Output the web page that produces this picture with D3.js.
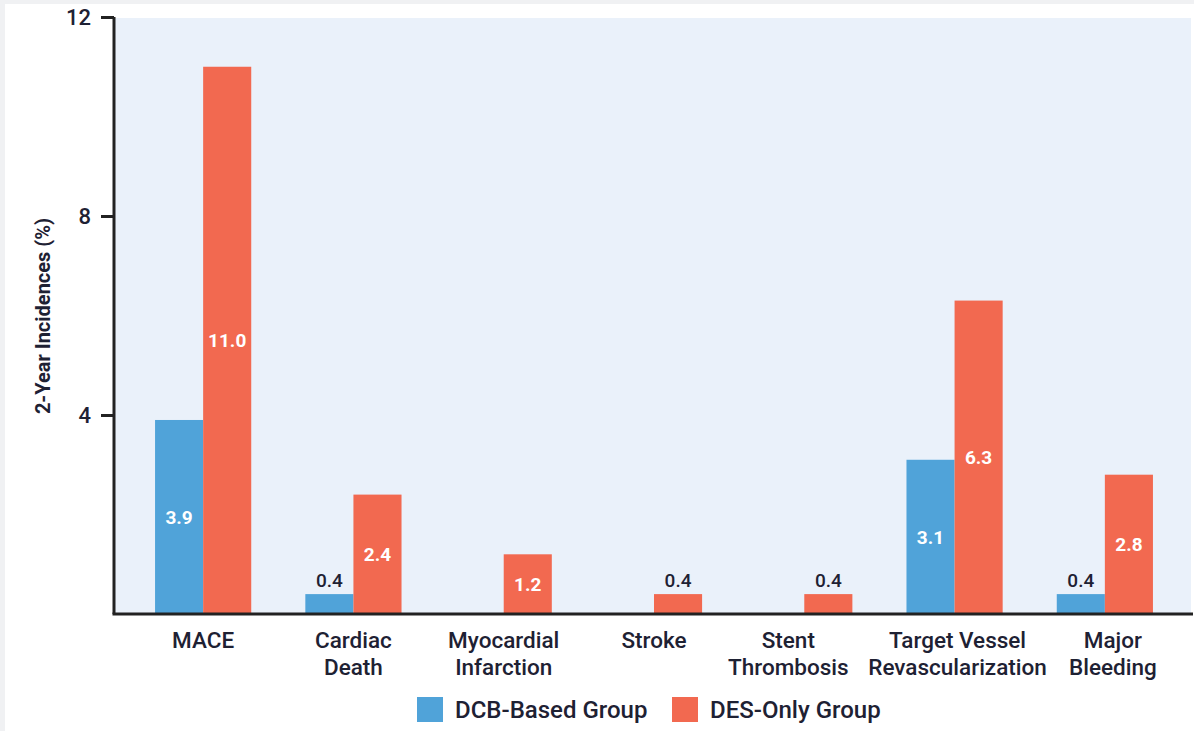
<!DOCTYPE html>
<html>
<head>
<meta charset="utf-8">
<script src="https://cdn.jsdelivr.net/npm/d3@7"></script>
<style>
  html, body { margin: 0; padding: 0; background: #f0f1f3; }
  svg { display: block; }
</style>
</head>
<body>
<svg id="chart" width="1194" height="731"></svg>
<script>
// Outcome categories (multi-line labels) and 2-year incidences (%) per group
const categories = [
  ["MACE"],
  ["Cardiac", "Death"],
  ["Myocardial", "Infarction"],
  ["Stroke"],
  ["Stent", "Thrombosis"],
  ["Target Vessel", "Revascularization"],
  ["Major", "Bleeding"]
];
const dcbValues = [3.9, 0.4, 0, 0, 0, 3.1, 0.4];
const desValues = [11.0, 2.4, 1.2, 0.4, 0.4, 6.3, 2.8];
const seriesNames = ["DCB-Based Group", "DES-Only Group"];
const yTicks = [4, 8, 12];
const yTitle = "2-Year Incidences (%)";

const colors = ["#50a3d9", "#f26950"];
const textColor = "#1e2133";
const font = "Roboto, 'Noto Sans', sans-serif";

// horizontal nudges (px) so neighbouring long category labels don't collide
const labelNudge = [0, 0, 0, 0, -16, 3, 8];

const svg = d3.select("#chart");

// white card on a light grey frame
svg.append("rect").attr("x", 5).attr("y", 4).attr("width", 1189).attr("height", 727).attr("fill", "#ffffff");

const plot = { left: 114, right: 1191, top: 17, bottom: 614 };

const y = d3.scaleLinear().domain([0, 12]).range([plot.bottom, plot.top]);
const keys = categories.map((c, i) => i);
const x0 = d3.scaleBand().domain(keys).range([128, 1180]).paddingInner(0.36).paddingOuter(0.18);
const x1 = d3.scaleBand().domain([0, 1]).range([0, x0.bandwidth()]);

// plot background
svg.append("rect")
  .attr("x", plot.left).attr("y", plot.top + 1)
  .attr("width", plot.right - plot.left).attr("height", plot.bottom - plot.top - 1)
  .attr("fill", "#eaf1fa");

const rows = keys.map(i => ({ i, vals: [dcbValues[i], desValues[i]] }));

const groups = svg.append("g").selectAll("g").data(rows).join("g")
  .attr("transform", d => `translate(${x0(d.i)},0)`);

groups.selectAll("rect").data(d => d.vals.map((v, s) => ({ v, s })).filter(e => e.v > 0))
  .join("rect")
  .attr("x", e => x1(e.s))
  .attr("width", x1.bandwidth())
  .attr("y", e => y(e.v))
  .attr("height", e => y(0) - y(e.v))
  .attr("fill", e => colors[e.s]);

// value labels: inside the bar when there is room, above it otherwise
const inside = e => (y(0) - y(e.v)) > 40;
groups.selectAll("text").data(d => d.vals.map((v, s) => ({ v, s })).filter(e => e.v > 0))
  .join("text")
  .attr("x", e => x1(e.s) + x1.bandwidth() / 2)
  .attr("y", e => inside(e) ? (y(e.v) + y(0)) / 2 : y(e.v) - 7)
  .attr("dy", e => inside(e) ? "0.35em" : "0")
  .attr("text-anchor", "middle")
  .attr("font-family", font)
  .attr("font-size", 19)
  .attr("font-weight", e => inside(e) ? 700 : 500)
  .attr("fill", e => inside(e) ? "#ffffff" : textColor)
  .text(e => e.v.toFixed(1));

// y axis
const yAxis = d3.axisLeft(y).tickValues(yTicks).tickSize(13).tickPadding(10).tickFormat(d3.format("d"));
const gy = svg.append("g").attr("transform", `translate(${plot.left},0)`).call(yAxis);
gy.select(".domain").attr("stroke", "#222").attr("stroke-width", 3).attr("d", `M0,${plot.top}V${plot.bottom}`);
gy.selectAll(".tick line").attr("stroke", "#222").attr("stroke-width", 3);
gy.selectAll(".tick text").attr("font-family", font).attr("font-size", 22).attr("font-weight", 500).attr("fill", textColor);

// x axis baseline
svg.append("line")
  .attr("x1", plot.left - 1.5).attr("x2", plot.right + 2)
  .attr("y1", plot.bottom).attr("y2", plot.bottom)
  .attr("stroke", "#222").attr("stroke-width", 3);

// category labels
const catText = svg.append("g").selectAll("text").data(categories).join("text")
  .attr("x", (c, i) => x0(i) + x0.bandwidth() / 2 + labelNudge[i])
  .attr("y", 648)
  .attr("text-anchor", "middle")
  .attr("font-family", font)
  .attr("font-size", 22.5)
  .attr("font-weight", 500)
  .attr("fill", textColor);
catText.selectAll("tspan").data(c => c).join("tspan")
  .attr("x", function () { return d3.select(this.parentNode).attr("x"); })
  .attr("dy", (t, j) => j === 0 ? 0 : 27)
  .text(t => t);

// y axis title
svg.append("text")
  .attr("transform", `translate(50,316) rotate(-90)`)
  .attr("text-anchor", "middle")
  .attr("font-family", font)
  .attr("font-size", 20)
  .attr("font-weight", 700)
  .attr("fill", textColor)
  .text(yTitle);

// legend
const legendX = [417, 672];
const legend = svg.append("g").selectAll("g").data(seriesNames).join("g")
  .attr("transform", (d, i) => `translate(${legendX[i]},697)`);
legend.append("rect").attr("width", 26).attr("height", 25).attr("fill", (d, i) => colors[i]);
legend.append("text")
  .attr("x", 38).attr("y", 12.5).attr("dy", "0.35em")
  .attr("font-family", font).attr("font-size", 24).attr("font-weight", 500).attr("fill", textColor)
  .text(d => d);
</script>
</body>
</html>
